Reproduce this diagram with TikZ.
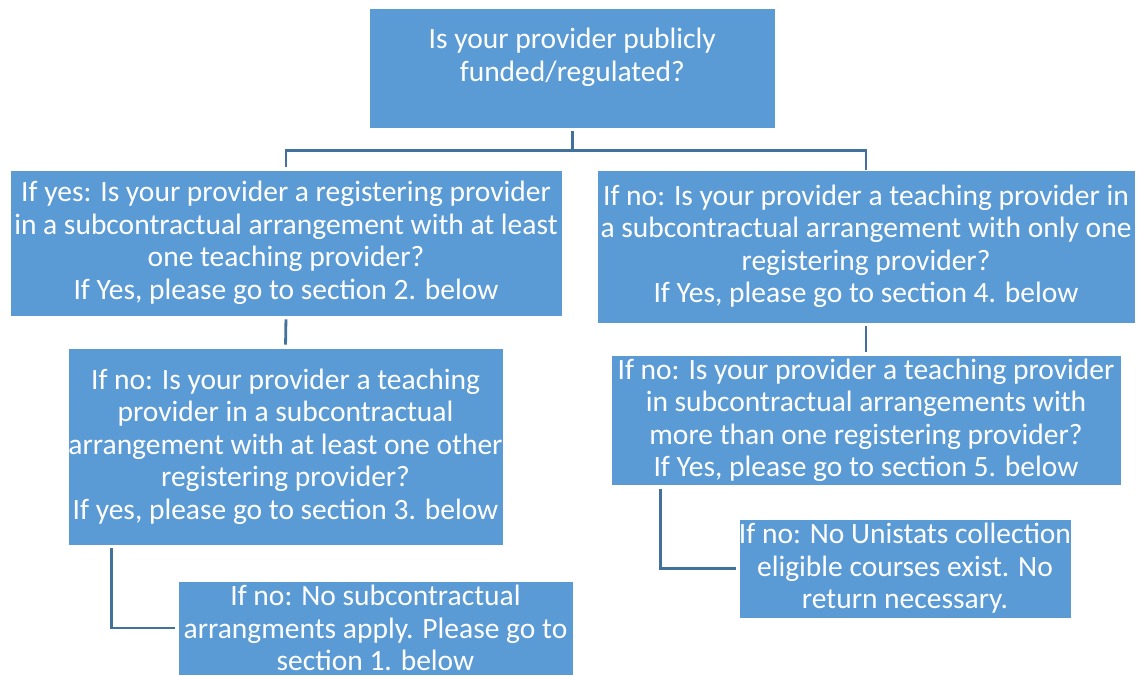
\documentclass[tikz,border=0pt]{standalone}
\usepackage{fontspec}
\setmainfont{Carlito}
\definecolor{boxblue}{HTML}{5B9BD5}
\definecolor{linkblue}{HTML}{41719C}
\begin{document}
\begin{tikzpicture}[x=1pt, y=-1pt,
	box/.style={fill=boxblue, draw=white, line width=0.8pt, text=white, align=center, inner sep=0pt,
		font=\fontsize{29.5}{32.5}\selectfont},
	link/.style={draw=linkblue, line width=2.8pt, shorten <=3pt, shorten >=3pt}]
	
	\useasboundingbox (0,0) rectangle (1137,675);
	
	\node [box, minimum width=406, minimum height=120] (q0) at (572.3,68) {Is your provider publicly\\funded/regulated?\\[-6pt]\mbox{}};
	
	\node [box, minimum width=552, minimum height=146] (l1) at (286,243) {If yes: Is your provider a registering provider\\in a subcontractual arrangement with at least\\one teaching provider?\\If Yes, please go to section 2. below};
	
	\node [box, minimum width=538, minimum height=153] (r1) at (866,246.5) {If no: Is your provider a teaching provider in\\a subcontractual arrangement with only one\\registering provider?\\If Yes, please go to section 4. below};
	
	\node [box, minimum width=435, minimum height=197] (l2) at (285.5,446.5) {If no: Is your provider a teaching\\provider in a subcontractual\\arrangement with at least one other\\registering provider?\\If yes, please go to section 3. below};
	
	\node [box, minimum width=510, minimum height=130] (r2) at (866,420.5) {If no: Is your provider a teaching provider\\in subcontractual arrangements with\\more than one registering provider?\\If Yes, please go to section 5. below};
	
	\node [box, minimum width=330, minimum height=99] (r3) at (905,568.5) {If no: No Unistats collection\\eligible courses exist. No\\return necessary.};
	
	\node [box, minimum width=395, minimum height=94] (l3) at (375.5,628) {If no: No subcontractual\\arrangments apply. Please go to\\section 1. below};
	
	
	\draw [link, shorten >=0pt] (q0.south) -- ++(0,22) coordinate (split);
	
	\draw [link, shorten >=0pt] (l1.north) |- (split) -| (r1.north);
	
	\draw [link] (l1.south) -- (l2.north);
	
	\draw [link] (r1.south) -- (r2.north);
	
	\draw [link] ([xshift=44pt]l2.south west) |- (l3.west);
	
	\draw [link] ([xshift=50pt]r2.south west) |- (r3.west);
	
\end{tikzpicture}
\end{document}
